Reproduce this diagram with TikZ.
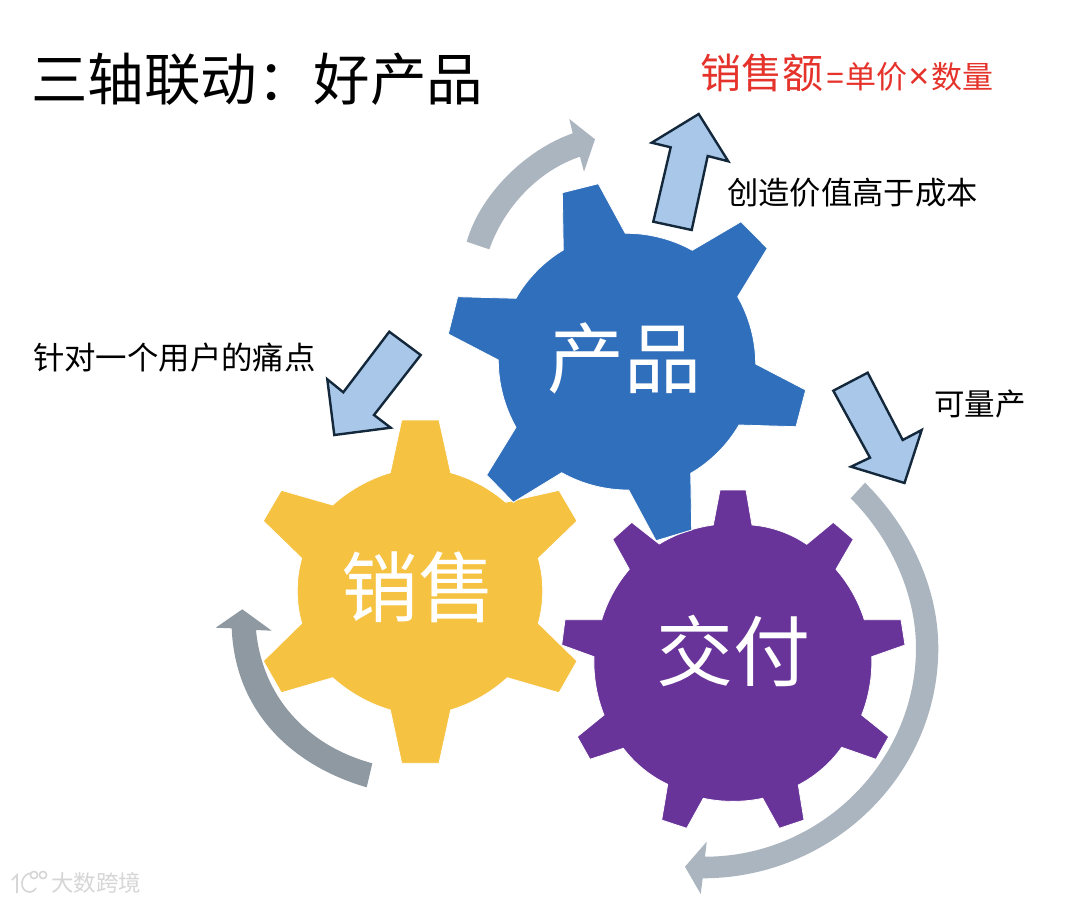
\documentclass[tikz,border=0pt]{standalone}
\usepackage{fontspec}
\setmainfont{Noto Sans CJK SC}
\newfontfamily\latn{Liberation Sans}
\tikzset{
  x=1pt,y=-1pt,
  gear/.style={draw=white,line width=0.8pt},
  val/.style={bend left=#1,looseness=.85},
  flow/.style={fill=#1,draw=none},
  block/.style={fill=arrowblue,draw=arrowedge,line width=2.4pt,miter limit=10,line join=miter},
  lbl/.style={inner sep=0pt,anchor=center,text=black},
  gearlbl/.style={inner sep=0pt,anchor=center,text=white,font=\fontsize{77}{77}\selectfont},
  wmline/.style={draw=mark,line width=1.6pt,fill=none},
}
\definecolor{gblue}{HTML}{306FBB}
\definecolor{gyellow}{HTML}{F5C242}
\definecolor{gpurple}{HTML}{693499}
\definecolor{arrowblue}{HTML}{A9C8E9}
\definecolor{arrowedge}{HTML}{14283C}
\definecolor{flowlight}{HTML}{ABB5BF}
\definecolor{flowdark}{HTML}{8E99A2}
\definecolor{redtext}{HTML}{E5322B}
\definecolor{mark}{HTML}{D6D6D6}
\begin{document}
\begin{tikzpicture}
\useasboundingbox (0,0) rectangle (1080,903);
\fill[white] (0,0) rectangle (1080,903);

% purple gear
\fill[gpurple,gear] (713.3,525) -- (720,490) -- (746,490) -- (752,525)
 to[val=15] (806.7,544.3) -- (833.3,522.3) -- (853.3,539.3) -- (836,569.3)
 to[val=12] (864.3,619.7) -- (901,619.7) -- (905,645) -- (871.7,656.7)
 to[val=12] (861.7,715) -- (888.7,736.7) -- (876,759.3) -- (841.7,747.3)
 to[val=14] (798.3,785) -- (804,820) -- (779.3,828.3) -- (762.7,798.3)
 to[val=12] (703.3,798.3) -- (686.7,828.3) -- (661.7,820) -- (667.7,784.3)
 to[val=14] (623.3,748.3) -- (590,759.3) -- (577.3,736.7) -- (604,715)
 to[val=12] (594,656.7) -- (561.7,645) -- (565,619.7) -- (601.7,619.7)
 to[val=12] (629.3,569.3) -- (612.7,539.3) -- (631.7,522.3) -- (659.3,544)
 to[val=12] cycle;
% yellow gear
\fill[gyellow,gear] (390.3,472.7) -- (401.7,420) -- (439,420) -- (450.7,472.7)
 to[val=13] (505.7,502.3) -- (559,490.3) -- (577,521) -- (538.3,558.3)
 to[val=16] (538.3,623.3) -- (577,661) -- (559,692.7) -- (507.3,677.7)
 to[val=13] (450.7,710) -- (439,763.3) -- (401.7,763.3) -- (390.3,710)
 to[val=13] (332.7,677.7) -- (281.3,692.7) -- (263.3,661) -- (301.7,623.3)
 to[val=16] (301.7,558.3) -- (263.3,521) -- (281.3,490.3) -- (332.7,505)
 to[val=13] cycle;
% blue gear
\fill[gblue,gear] (563.3,250) -- (562.3,192.7) -- (598.3,183.7) -- (625.3,233.3)
 to[val=15] (692.3,250.3) -- (741,221.7) -- (767.3,248.3) -- (737.7,296.7)
 to[val=15] (755.7,364) -- (805.7,390) -- (796,426.7) -- (739,425)
 to[val=15] (690.7,473.3) -- (691.7,530) -- (656,540.7) -- (628.7,490)
 to[val=15] (561.7,472.7) -- (513.3,502.3) -- (486.7,475) -- (516,427.3)
 to[val=15] (498.3,360) -- (448.3,334) -- (457.7,296.7) -- (516,298.3)
 to[val=15] cycle;

\node[gearlbl] (chanpin) at (624,358) {产品};
\node[gearlbl] (xiaoshou) at (418.5,587) {销售};
\node[gearlbl] (jiaofu) at (733,651) {交付};

% curved flow arrows
\fill[flow=flowlight] (466.7,241.7) .. controls (480,195) and (525,150) .. (572.7,133.3)
 -- (569.3,119) -- (595,139.3) -- (584,171.7) -- (580,156.7)
 .. controls (540,170) and (505,205) .. (489.3,249.3) -- cycle;
\fill[flow=flowlight] (865,482.7) .. controls (908.7,525.9) and (938.3,586.4) .. (938.3,648)
 .. controls (938.3,776) and (831,878.3) .. (702.7,878.3)
 -- (700.7,894) -- (685,866.7) -- (706.7,841.7) -- (705,856.7)
 .. controls (821,856.7) and (916,761) .. (916,648)
 .. controls (916,593) and (889.7,537.3) .. (850.7,498.3) -- cycle;
\fill[flow=flowdark] (366.7,787.3) .. controls (290,765) and (235,710) .. (231.7,628.3)
 -- (215.7,627.7) -- (242.3,609.3) -- (271.7,630.7) -- (256,630)
 .. controls (262,695) and (305,745) .. (372.3,763.3) -- cycle;

% block arrows
\draw[block] (698.7,114) -- (728.3,161.3) -- (707.7,156) -- (691.7,230) -- (653.3,221.7) -- (670.7,147.3) -- (651.7,142.7) -- cycle;
\draw[block] (389.3,331.7) -- (420.7,355) -- (374,415) -- (390.7,427.7) -- (334.3,435) -- (327.3,379.3) -- (343.3,392.3) -- cycle;
\draw[block] (867.7,372.7) -- (902.7,440) -- (921.7,430) -- (904.5,483) -- (851,466.7) -- (870,457.7) -- (833.3,390.7) -- cycle;

% texts
\node[lbl,anchor=west,font=\fontsize{56.5}{56}\selectfont] (title) at (31,79) {三轴联动：好产品};
\node[inner sep=0pt,anchor=west,text=redtext] (sales) at (700,73) {\fontsize{41}{42}\selectfont 销售额\hspace{3pt}\fontsize{31}{30}\selectfont{\latn =}\hspace{1pt}单价\hspace{1pt}{\fontsize{36}{30}\selectfont\latn ×}\hspace{2pt}数量};
\node[lbl,anchor=west,font=\fontsize{31.3}{31}\selectfont] (value) at (727,193) {创造价值高于成本};
\node[lbl,anchor=west,font=\fontsize{31.4}{31}\selectfont] (pain) at (33,358) {针对一个用户的痛点};
\node[lbl,anchor=west,font=\fontsize{30.5}{31}\selectfont] (mass) at (934,404) {可量产};
\node[inner sep=0pt,anchor=west,text=mark,font=\fontsize{22.5}{24}\selectfont] (wm) at (51,883) {大数跨境};
% watermark logo
\draw[wmline] (12,880) -- (17,875) -- (17,893);
\draw[wmline] (32,873) .. controls (20,873) and (18,892) .. (30,892) .. controls (33,892) and (35,890) .. (36,888);
\draw[wmline] (34,875) circle[radius=3.6];
\draw[wmline] (43,875) circle[radius=3.6];
\end{tikzpicture}
\end{document}
